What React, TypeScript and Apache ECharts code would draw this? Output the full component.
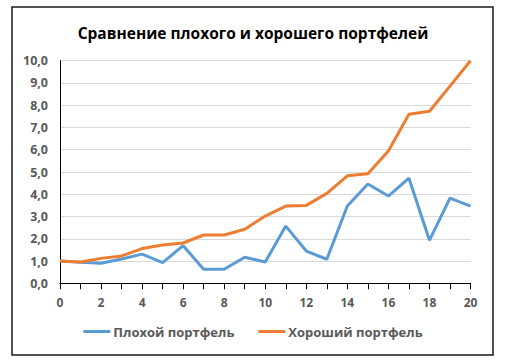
import React, { useEffect, useRef } from "react";
import * as echarts from "echarts";

const xValues = [0, 1, 2, 3, 4, 5, 6, 7, 8, 9, 10, 11, 12, 13, 14, 15, 16, 17, 18, 19, 20];
const badPortfolio = [1.0, 0.94, 0.9, 1.09, 1.31, 0.93, 1.69, 0.63, 0.63, 1.17, 0.96, 2.57, 1.45, 1.08, 3.47, 4.46, 3.92, 4.72, 1.93, 3.83, 3.47];
const goodPortfolio = [1.0, 0.96, 1.12, 1.23, 1.56, 1.72, 1.81, 2.17, 2.17, 2.43, 3.02, 3.47, 3.5, 4.04, 4.83, 4.92, 5.94, 7.59, 7.73, 8.86, 10.0];
const seriesNames = ["Плохой портфель", "Хороший портфель"];
const titleText = "Сравнение плохого и хорошего портфелей";

const FONT = "'Open Sans', 'Noto Sans', sans-serif";

export default function App() {
  const ref = useRef<HTMLDivElement>(null);
  useEffect(() => {
    if (!ref.current) return;
    const chart = echarts.init(ref.current, undefined, { renderer: "svg" });
    chart.setOption({
      animation: false,
      backgroundColor: "#ffffff",
      title: {
        text: titleText,
        left: "center",
        top: 20,
        textStyle: { fontFamily: FONT, fontWeight: "bold", fontSize: 15.5, color: "#000" },
      },
      graphic: [
        {
          type: "rect",
          shape: { x: 12, y: 7, width: 481, height: 348 },
          style: { fill: "none", stroke: "#1a1a1a", lineWidth: 1.5 },
          silent: true,
        },
      ],
      legend: {
        bottom: 20,
        left: "center",
        itemWidth: 27,
        itemHeight: 3,
        itemGap: 24,
        icon: "rect",
        textStyle: { fontFamily: FONT, fontWeight: "bold", fontSize: 13, color: "#595959", padding: [0, 0, 0, -2] },
        data: seriesNames,
      },
      grid: { left: 60, right: 35.5, top: 60.7, bottom: 79.7, containLabel: false },
      xAxis: {
        type: "value",
        min: 0,
        max: 20,
        interval: 1,
        axisLine: { show: true, lineStyle: { color: "#000", width: 1 } },
        axisTick: { show: true, length: 6, lineStyle: { color: "#000" } },
        splitLine: { show: false },
        axisLabel: {
          margin: 13,
          fontFamily: FONT,
          fontWeight: "bold",
          fontSize: 12,
          color: "#595959",
          formatter: (v: number) => (v % 2 === 0 ? String(v) : ""),
        },
      },
      yAxis: {
        type: "value",
        min: 0,
        max: 10,
        interval: 1,
        axisLine: { show: true, lineStyle: { color: "#000", width: 1 } },
        axisTick: { show: false },
        splitLine: { show: true, lineStyle: { color: "#d9d9d9", width: 1 } },
        axisLabel: {
          margin: 12,
          fontFamily: FONT,
          fontWeight: "bold",
          fontSize: 12.5,
          color: "#595959",
          formatter: (v: number) => v.toFixed(1).replace(".", ","),
        },
      },
      series: [
        {
          name: seriesNames[0],
          type: "line",
          data: xValues.map((x, i) => [x, badPortfolio[i]]),
          showSymbol: false,
          lineStyle: { color: "#5b9bd5", width: 3 },
          itemStyle: { color: "#5b9bd5" },
        },
        {
          name: seriesNames[1],
          type: "line",
          data: xValues.map((x, i) => [x, goodPortfolio[i]]),
          showSymbol: false,
          lineStyle: { color: "#ed7d31", width: 3 },
          itemStyle: { color: "#ed7d31" },
        },
      ],
    });
    return () => chart.dispose();
  }, []);
  return (
    <div
      ref={ref}
      style={{ position: "fixed", left: 0, top: 0, width: 506, height: 363 }}
    />
  );
}
